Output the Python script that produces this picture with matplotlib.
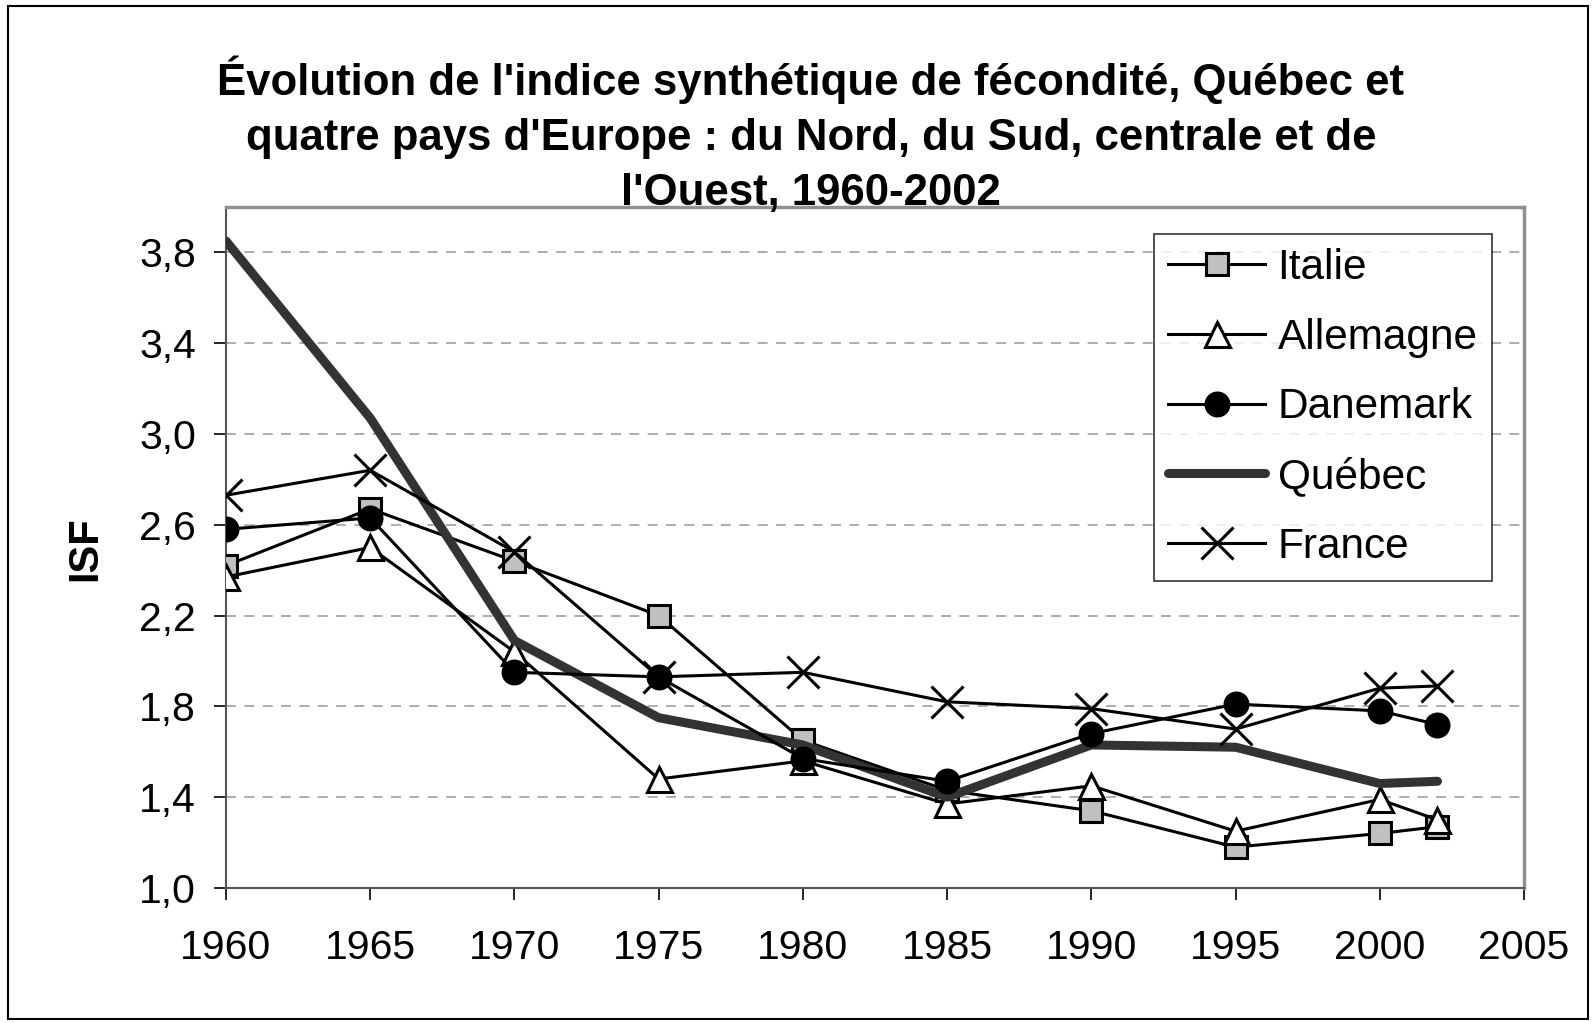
import matplotlib
matplotlib.use("Agg")
import matplotlib.pyplot as plt
from matplotlib.patches import Rectangle

plt.rcParams["font.family"] = ["Liberation Sans", "DejaVu Sans"]

years = [1960, 1965, 1970, 1975, 1980, 1985, 1990, 1995, 2000, 2002]

italie = [2.42, 2.67, 2.44, 2.20, 1.65, 1.43, 1.34, 1.18, 1.24, 1.27]
allemagne = [2.37, 2.50, 2.04, 1.48, 1.56, 1.37, 1.45, 1.25, 1.39, 1.30]
danemark = [2.58, 2.63, 1.95, 1.93, 1.57, 1.47, 1.68, 1.81, 1.78, 1.72]
quebec = [3.85, 3.07, 2.09, 1.75, 1.63, 1.40, 1.63, 1.62, 1.46, 1.47]
france = [2.73, 2.84, 2.48, 1.93, 1.95, 1.82, 1.79, 1.70, 1.88, 1.89]

x_ticks = [1960, 1965, 1970, 1975, 1980, 1985, 1990, 1995, 2000, 2005]
y_ticks = [1.0, 1.4, 1.8, 2.2, 2.6, 3.0, 3.4, 3.8]
y_tick_labels = ["1,0", "1,4", "1,8", "2,2", "2,6", "3,0", "3,4", "3,8"]

title = ("Évolution de l'indice synthétique de fécondité, Québec et\n"
         "quatre pays d'Europe : du Nord, du Sud, centrale et de\n"
         "l'Ouest, 1960-2002")

fig = plt.figure(figsize=(15.96, 10.23), dpi=100)
ax = fig.add_axes([0.1416, 0.132, 0.8133, 0.6657])

thin = dict(color="black", linewidth=2.2, markeredgecolor="black", markeredgewidth=2.2)
ax.plot(years, italie, marker="s", markersize=16, markerfacecolor="#c0c0c0", label="Italie", zorder=3, **thin)
ax.plot(years, allemagne, marker="^", markersize=18, markerfacecolor="white", label="Allemagne", zorder=3, **thin)
ax.plot(years, danemark, marker="o", markersize=16.5, markerfacecolor="black", label="Danemark", zorder=4, **thin)
ax.plot(years, quebec, color="#333333", linewidth=6.5, solid_capstyle="round", label="Québec", zorder=3.5)
ax.plot(years, france, marker="x", markersize=23, markerfacecolor="none", label="France", zorder=5, **thin)

ax.set_xlim(1960, 2005)
ax.set_ylim(1.0, 4.0)
ax.set_xticks(x_ticks)
ax.set_yticks(y_ticks)
ax.set_yticklabels(y_tick_labels)
ax.tick_params(axis="both", labelsize=29.5, direction="out", length=8.6, width=1.2)
ax.tick_params(axis="x", pad=21)
ax.tick_params(axis="y", pad=13)
ax.yaxis.grid(True, linestyle=(0, (6, 5)), color="#a0a0a0", linewidth=1.2)
ax.set_axisbelow(True)

for side in ("top", "right"):
    ax.spines[side].set_color("#909090")
    ax.spines[side].set_linewidth(2.5)
for side in ("left", "bottom"):
    ax.spines[side].set_color("#555555")
    ax.spines[side].set_linewidth(1.5)

fig.text(0.0533, 0.4633, "ISF", rotation=90, ha="center", va="center", fontsize=30, fontweight="bold")

fig.text(0.508, 0.8686, title, ha="center", va="center", fontsize=31.5, fontweight="bold", linespacing=1.44)

leg = ax.legend(loc="upper right", bbox_to_anchor=(0.975, 0.96), borderaxespad=0,
                fontsize=30.5, frameon=True, fancybox=False, handlelength=2.28,
                labelspacing=0.7, handletextpad=0.3, borderpad=0.33)
leg.get_frame().set_edgecolor("black")
leg.get_frame().set_linewidth(1.2)

fig.patches.append(Rectangle((0.005, 0.004), 0.99, 0.99, transform=fig.transFigure,
                             fill=False, edgecolor="black", linewidth=1.5))

fig.savefig("out.png", dpi=100)
